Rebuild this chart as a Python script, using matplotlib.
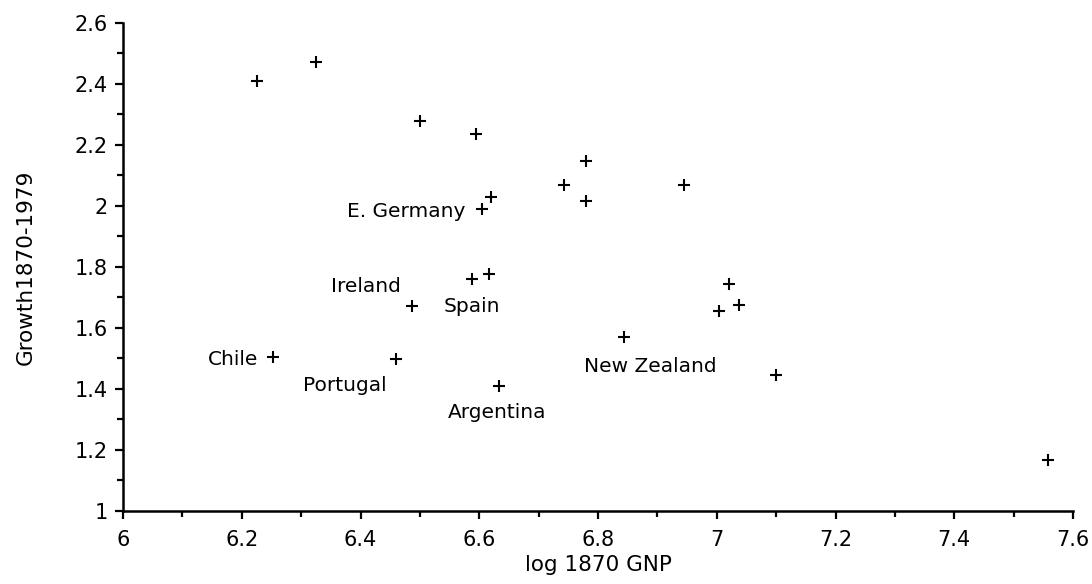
import matplotlib
matplotlib.use("Agg")
import matplotlib.pyplot as plt
from matplotlib.ticker import MultipleLocator

# Data
log_gnp = [6.225, 6.325, 6.500, 6.595, 6.780, 6.620, 6.605, 6.742, 6.780, 6.944,
           6.587, 6.617, 6.486, 7.021, 7.004, 7.038, 6.843, 6.253, 6.459, 6.634,
           7.100, 7.558]
growth = [2.41, 2.47, 2.278, 2.236, 2.147, 2.029, 1.990, 2.068, 2.016, 2.068,
          1.760, 1.777, 1.672, 1.744, 1.655, 1.675, 1.570, 1.505, 1.498, 1.410,
          1.446, 1.167]

# labelled countries: (name, index of point)
label_names = ["E. Germany", "Ireland", "Spain", "Chile", "Portugal", "Argentina", "New Zealand"]
label_index = [6, 12, 10, 17, 18, 19, 16]
label_offsets = [(-12, -2), (-8, 14), (0, -20), (-11, -2), (-6.5, -19), (-1.5, -19.5), (19, -21.5)]
label_ha = ["right", "right", "center", "right", "right", "center", "center"]

x_ticks = [6, 6.2, 6.4, 6.6, 6.8, 7, 7.2, 7.4, 7.6]
x_tick_labels = ["6", "6.2", "6.4", "6.6", "6.8", "7", "7.2", "7.4", "7.6"]
y_ticks = [1, 1.2, 1.4, 1.6, 1.8, 2, 2.2, 2.4, 2.6]
y_tick_labels = ["1", "1.2", "1.4", "1.6", "1.8", "2", "2.2", "2.4", "2.6"]

plt.rcParams['font.family'] = ['DejaVu Sans']

fig = plt.figure(figsize=(10.92, 5.84), dpi=100)
ax = fig.add_axes([123 / 1092, 1 - 511 / 584, (1073 - 123) / 1092, (511 - 22.7) / 584])

ax.scatter(log_gnp, growth, marker='+', s=70, color='black', linewidths=1.5, clip_on=False)

for name, idx, off, ha in zip(label_names, label_index, label_offsets, label_ha):
    ax.annotate(name, (log_gnp[idx], growth[idx]), xytext=off, textcoords='offset points',
                ha=ha, va='center', fontsize=14.5, color='black')

ax.set_xlim(6, 7.6)
ax.set_ylim(1, 2.6)
ax.set_xticks(x_ticks)
ax.set_xticklabels(x_tick_labels)
ax.set_yticks(y_ticks)
ax.set_yticklabels(y_tick_labels)
ax.xaxis.set_minor_locator(MultipleLocator(0.1))
ax.yaxis.set_minor_locator(MultipleLocator(0.1))

for s in ['top', 'right']:
    ax.spines[s].set_visible(False)
for s in ['left', 'bottom']:
    ax.spines[s].set_linewidth(1.8)

ax.tick_params(axis='both', which='major', direction='out', length=6, width=1.6,
               labelsize=15, colors='black')
ax.tick_params(axis='x', which='major', pad=8)
ax.tick_params(axis='y', which='major', pad=5)
ax.tick_params(axis='both', which='minor', direction='out', length=4, width=1.6)

ax.set_xlabel("log 1870 GNP", fontsize=15.5, labelpad=3)
ax.set_ylabel("Growth1870-1979", fontsize=15.5, labelpad=28)

fig.savefig("out.png", dpi=100)
